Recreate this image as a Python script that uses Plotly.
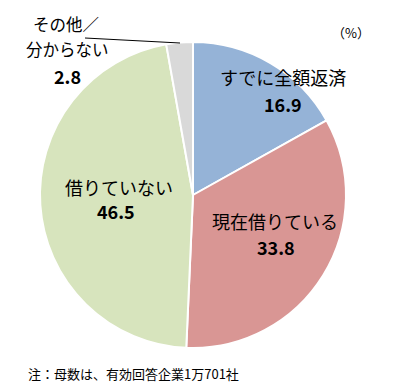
import plotly.graph_objects as go

labels = ["すでに全額返済", "現在借りている", "借りていない", "その他／分からない"]
values = [16.9, 33.8, 46.5, 2.8]
colors = ["#95B3D7", "#D99694", "#D7E4BD", "#D9D9D9"]
label_lines = [["すでに全額返済"], ["現在借りている"], ["借りていない"], ["その他／", "分からない"]]

# page body has an 8px margin, so the figure is drawn 8px smaller and shifted
OFF = 8
W, H = 420 - OFF, 386 - OFF
def px(x): return (x - OFF) / W
def py(y): return 1 - (y - OFF) / H

cx, cy, r = 193, 195, 153

fig = go.Figure(go.Pie(
    labels=labels, values=values, sort=False, direction="clockwise", rotation=0,
    marker=dict(colors=colors, line=dict(color="white", width=2)),
    textinfo="none", hoverinfo="label+value", showlegend=False,
    domain=dict(x=[px(cx - r), px(cx + r)], y=[py(cy + r), py(cy - r)]),
))

font = "Noto Sans CJK JP, sans-serif"
# centers of each text line, then the value line, per slice
pos = [[(283, 77), (283, 104)],
       [(275, 221), (276, 247)],
       [(119, 187), (116, 211)],
       [(66, 24), (67, 49), (67, 76)]]
sizes = [18, 18, 18, 16.5]
anns = []
for lines, v, p, s in zip(label_lines, values, pos, sizes):
    for t, (x, y) in zip(lines, p[:-1]):
        anns.append(dict(x=px(x), y=py(y), xref="paper", yref="paper",
                         xanchor="center", yanchor="middle",
                         text=t, showarrow=False, font=dict(family=font, size=s, color="black")))
    vx, vy = p[-1]
    anns.append(dict(x=px(vx), y=py(vy), xref="paper", yref="paper",
                     xanchor="center", yanchor="middle",
                     text="<b>%.1f</b>" % v, showarrow=False,
                     font=dict(family=font, size=18, color="black")))
anns.append(dict(x=px(351), y=py(32), xref="paper", yref="paper", text="（%）",
                 xanchor="center", yanchor="middle",
                 showarrow=False, font=dict(family=font, size=13, color="black")))
anns.append(dict(x=px(26), y=py(373), xref="paper", yref="paper", xanchor="left",
                 yanchor="middle",
                 text="注：母数は、有効回答企業1万701社", showarrow=False,
                 font=dict(family=font, size=13, color="black")))

fig.update_layout(
    width=W, height=H, margin=dict(l=0, r=0, t=0, b=0),
    paper_bgcolor="white", plot_bgcolor="white", annotations=anns,
    shapes=[dict(type="line", xref="paper", yref="paper", x0=px(85), y0=py(38),
                 x1=px(180), y1=py(43), line=dict(color="black", width=1))],
)
fig.write_html("out.html")
